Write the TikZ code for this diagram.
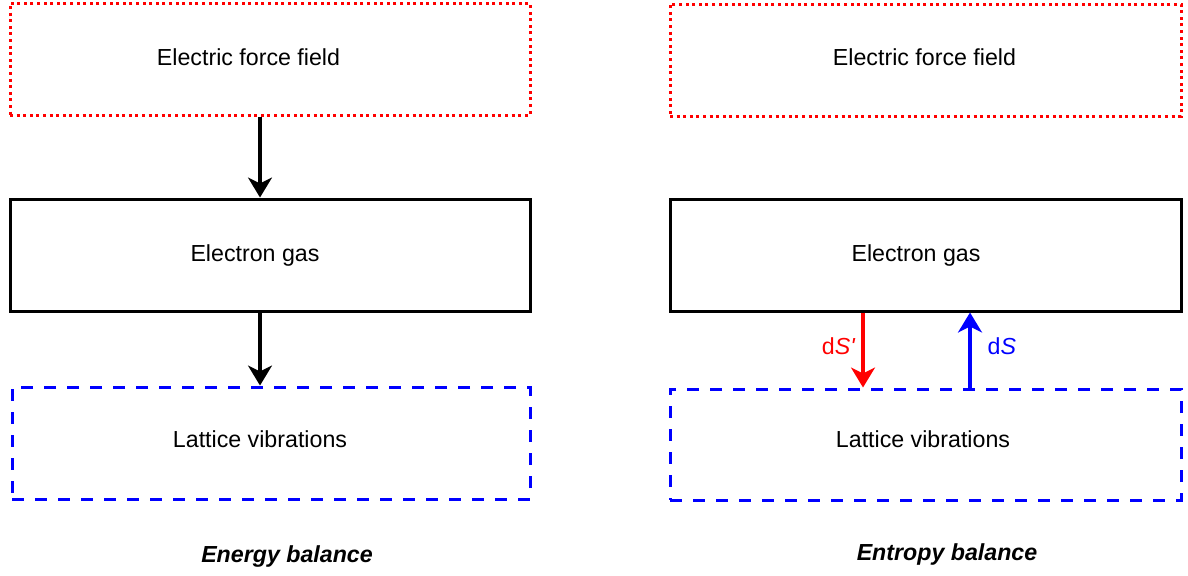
\documentclass[tikz,border=0pt]{standalone}
\usepackage{fontspec}
\setmainfont{Liberation Sans}
\usetikzlibrary{arrows.meta}
\tikzset{
  box/.style={draw, line width=1.5pt, minimum width=#1, minimum height=56pt, inner sep=0pt},
  fieldbox/.style={box=#1, red, dash pattern=on 1.5pt off 1.8pt},
  gasbox/.style={box=#1, black},
  latticebox/.style={box=#1, blue, dash pattern=on 6pt off 5.5pt},
  txt/.style={font=\fontsize{11.6pt}{14pt}\selectfont, inner sep=0pt},
  captxt/.style={font=\fontsize{11.6pt}{14pt}\selectfont\bfseries\itshape, inner sep=0pt},
  flow/.style={line width=1.6pt, -{Stealth[length=10pt, width=12pt, inset=3pt]}}
}
\begin{document}
\begin{tikzpicture}[x=0.5pt, y=-0.5pt]
		\useasboundingbox (0,0) rectangle (1188,575);
		% energy balance
		\node[fieldbox=260pt] (lfield) at (270,59) {};
		\node[gasbox=260pt] (lgas) at (270,255) {};
		\node[latticebox=259pt] (llat) at (271,443) {};
		\node[txt] (lfieldt) at (248.5,57) {Electric force field};
		\node[txt] (lgast) at (255,255) {Electron gas};
		\node[txt] (llatt) at (260,439) {Lattice vibrations};
		\coordinate (lax) at (260,0);
		\draw[flow] (lfield.south -| lax) -- (lgas.north -| lax);
		\draw[flow] (lgas.south -| lax) -- (llat.north -| lax);
		\node[captxt] (lcap) at (287,556) {Energy balance};
		% entropy balance
		\node[fieldbox=255.5pt] (rfield) at (925.5,60) {};
		\node[gasbox=255.5pt] (rgas) at (925.5,255) {};
		\node[latticebox=255.5pt, minimum height=55.5pt] (rlat) at (925.5,444.5) {};
		\node[txt] (rfieldt) at (924.5,57) {Electric force field};
		\node[txt] (rgast) at (916,255) {Electron gas};
		\node[txt] (rlatt) at (923,439) {Lattice vibrations};
		\coordinate (rdown) at (863,0);
		\coordinate (rup) at (970,0);
		\draw[flow, red] (rgas.south -| rdown) -- (rlat.north -| rdown) node[pos=0.45, left=3pt, txt, text=red] (dsp) {d\textit{S\textquotesingle}};
		\draw[flow, blue] (rlat.north -| rup) -- (rgas.south -| rup) node[pos=0.55, right=8pt, txt, text=blue] (ds) {d\textit{S}};
		\node[captxt] (rcap) at (947,554) {Entropy balance};
	\end{tikzpicture}
\end{document}
